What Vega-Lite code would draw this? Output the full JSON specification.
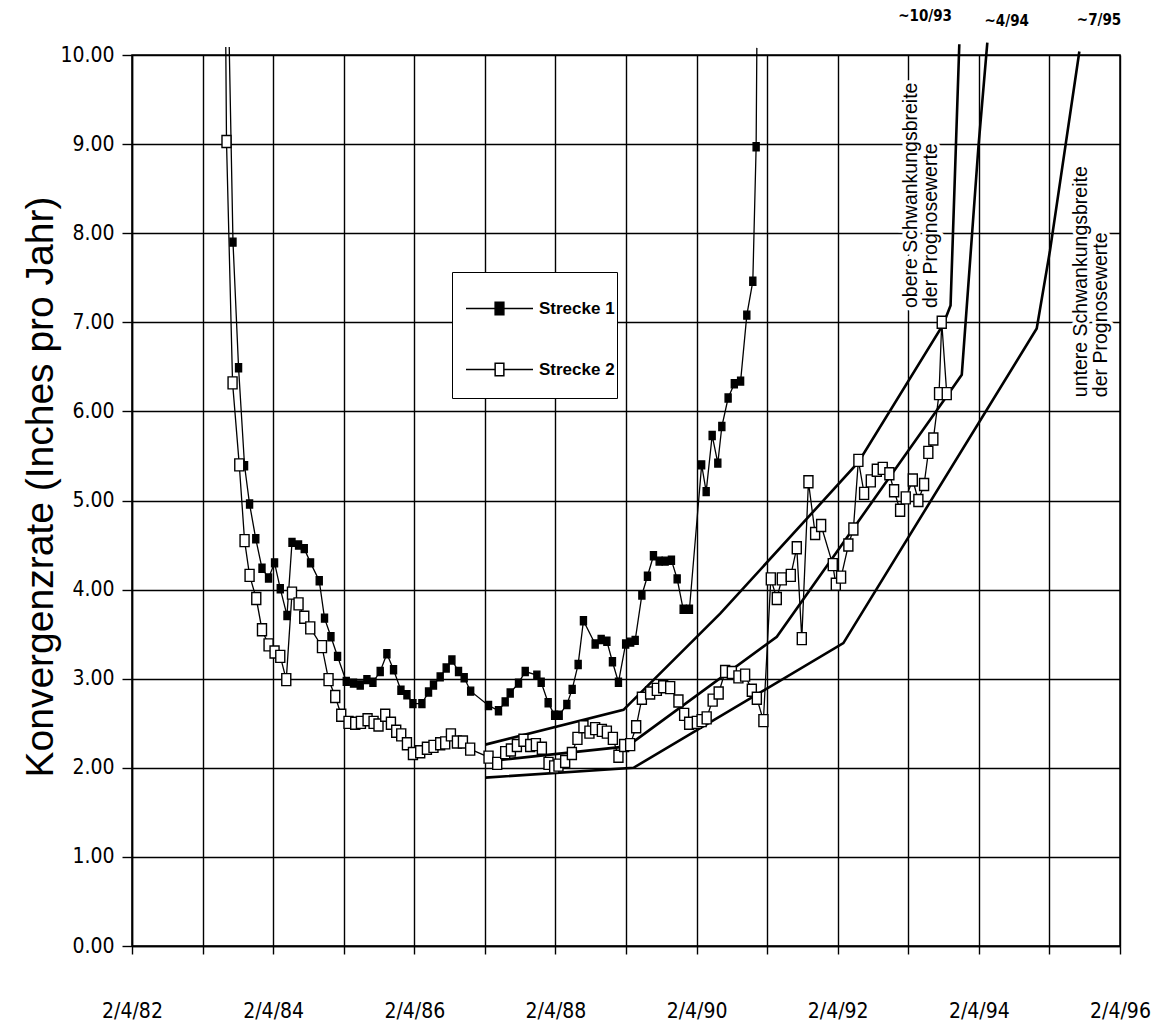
{
  "$schema": "https://vega.github.io/schema/vega-lite/v6.json",
  "width": 988,
  "height": 891,
  "autosize": {"type": "none"},
  "padding": {"left": 132, "top": 55, "right": 35, "bottom": 77},
  "background": "white",
  "config": {
    "view": {"stroke": "black", "strokeWidth": 1.5},
    "axis": {
      "gridColor": "black", "gridOpacity": 1, "gridWidth": 1.4,
      "domainColor": "black", "domainWidth": 1.5,
      "tickColor": "black", "tickWidth": 1.4,
      "labelColor": "black", "titleColor": "black",
      "labelFont": "Liberation Sans Narrow, DejaVu Sans Condensed, Liberation Sans",
      "labelFontSize": 21, "labelFlush": false, "labelOverlap": false
    },
    "legend": {
      "orient": "none",
      "symbolStrokeColor": "black", "symbolStrokeWidth": 1.5, "symbolOpacity": 1,
      "labelFont": "Liberation Sans", "labelFontSize": 17, "labelFontWeight": "bold", "labelColor": "black"
    }
  },
  "datasets": {
    "messungen": [
      {"Jahr": 1983.472, "Wert": 10.09, "Strecke": "Strecke 1"},
      {"Jahr": 1983.525, "Wert": 7.90, "Strecke": "Strecke 1"},
      {"Jahr": 1983.604, "Wert": 6.49, "Strecke": "Strecke 1"},
      {"Jahr": 1983.689, "Wert": 5.39, "Strecke": "Strecke 1"},
      {"Jahr": 1983.760, "Wert": 4.96, "Strecke": "Strecke 1"},
      {"Jahr": 1983.848, "Wert": 4.57, "Strecke": "Strecke 1"},
      {"Jahr": 1983.936, "Wert": 4.24, "Strecke": "Strecke 1"},
      {"Jahr": 1984.029, "Wert": 4.13, "Strecke": "Strecke 1"},
      {"Jahr": 1984.114, "Wert": 4.30, "Strecke": "Strecke 1"},
      {"Jahr": 1984.195, "Wert": 4.01, "Strecke": "Strecke 1"},
      {"Jahr": 1984.290, "Wert": 3.71, "Strecke": "Strecke 1"},
      {"Jahr": 1984.361, "Wert": 4.53, "Strecke": "Strecke 1"},
      {"Jahr": 1984.454, "Wert": 4.50, "Strecke": "Strecke 1"},
      {"Jahr": 1984.535, "Wert": 4.46, "Strecke": "Strecke 1"},
      {"Jahr": 1984.624, "Wert": 4.30, "Strecke": "Strecke 1"},
      {"Jahr": 1984.747, "Wert": 4.10, "Strecke": "Strecke 1"},
      {"Jahr": 1984.822, "Wert": 3.68, "Strecke": "Strecke 1"},
      {"Jahr": 1984.913, "Wert": 3.47, "Strecke": "Strecke 1"},
      {"Jahr": 1985.007, "Wert": 3.25, "Strecke": "Strecke 1"},
      {"Jahr": 1985.130, "Wert": 2.97, "Strecke": "Strecke 1"},
      {"Jahr": 1985.233, "Wert": 2.95, "Strecke": "Strecke 1"},
      {"Jahr": 1985.328, "Wert": 2.93, "Strecke": "Strecke 1"},
      {"Jahr": 1985.423, "Wert": 2.99, "Strecke": "Strecke 1"},
      {"Jahr": 1985.508, "Wert": 2.96, "Strecke": "Strecke 1"},
      {"Jahr": 1985.611, "Wert": 3.08, "Strecke": "Strecke 1"},
      {"Jahr": 1985.706, "Wert": 3.28, "Strecke": "Strecke 1"},
      {"Jahr": 1985.800, "Wert": 3.10, "Strecke": "Strecke 1"},
      {"Jahr": 1985.905, "Wert": 2.87, "Strecke": "Strecke 1"},
      {"Jahr": 1985.990, "Wert": 2.82, "Strecke": "Strecke 1"},
      {"Jahr": 1986.075, "Wert": 2.72, "Strecke": "Strecke 1"},
      {"Jahr": 1986.202, "Wert": 2.72, "Strecke": "Strecke 1"},
      {"Jahr": 1986.296, "Wert": 2.85, "Strecke": "Strecke 1"},
      {"Jahr": 1986.366, "Wert": 2.93, "Strecke": "Strecke 1"},
      {"Jahr": 1986.461, "Wert": 3.02, "Strecke": "Strecke 1"},
      {"Jahr": 1986.546, "Wert": 3.12, "Strecke": "Strecke 1"},
      {"Jahr": 1986.627, "Wert": 3.21, "Strecke": "Strecke 1"},
      {"Jahr": 1986.721, "Wert": 3.08, "Strecke": "Strecke 1"},
      {"Jahr": 1986.801, "Wert": 3.01, "Strecke": "Strecke 1"},
      {"Jahr": 1986.893, "Wert": 2.86, "Strecke": "Strecke 1"},
      {"Jahr": 1987.146, "Wert": 2.70, "Strecke": "Strecke 1"},
      {"Jahr": 1987.287, "Wert": 2.64, "Strecke": "Strecke 1"},
      {"Jahr": 1987.382, "Wert": 2.74, "Strecke": "Strecke 1"},
      {"Jahr": 1987.453, "Wert": 2.84, "Strecke": "Strecke 1"},
      {"Jahr": 1987.571, "Wert": 2.95, "Strecke": "Strecke 1"},
      {"Jahr": 1987.666, "Wert": 3.08, "Strecke": "Strecke 1"},
      {"Jahr": 1987.831, "Wert": 3.04, "Strecke": "Strecke 1"},
      {"Jahr": 1987.892, "Wert": 2.96, "Strecke": "Strecke 1"},
      {"Jahr": 1987.991, "Wert": 2.73, "Strecke": "Strecke 1"},
      {"Jahr": 1988.083, "Wert": 2.59, "Strecke": "Strecke 1"},
      {"Jahr": 1988.147, "Wert": 2.59, "Strecke": "Strecke 1"},
      {"Jahr": 1988.256, "Wert": 2.71, "Strecke": "Strecke 1"},
      {"Jahr": 1988.331, "Wert": 2.88, "Strecke": "Strecke 1"},
      {"Jahr": 1988.416, "Wert": 3.16, "Strecke": "Strecke 1"},
      {"Jahr": 1988.491, "Wert": 3.65, "Strecke": "Strecke 1"},
      {"Jahr": 1988.657, "Wert": 3.39, "Strecke": "Strecke 1"},
      {"Jahr": 1988.742, "Wert": 3.44, "Strecke": "Strecke 1"},
      {"Jahr": 1988.823, "Wert": 3.42, "Strecke": "Strecke 1"},
      {"Jahr": 1988.902, "Wert": 3.19, "Strecke": "Strecke 1"},
      {"Jahr": 1988.987, "Wert": 2.96, "Strecke": "Strecke 1"},
      {"Jahr": 1989.089, "Wert": 3.39, "Strecke": "Strecke 1"},
      {"Jahr": 1989.160, "Wert": 3.41, "Strecke": "Strecke 1"},
      {"Jahr": 1989.224, "Wert": 3.43, "Strecke": "Strecke 1"},
      {"Jahr": 1989.319, "Wert": 3.94, "Strecke": "Strecke 1"},
      {"Jahr": 1989.398, "Wert": 4.15, "Strecke": "Strecke 1"},
      {"Jahr": 1989.483, "Wert": 4.38, "Strecke": "Strecke 1"},
      {"Jahr": 1989.564, "Wert": 4.32, "Strecke": "Strecke 1"},
      {"Jahr": 1989.649, "Wert": 4.32, "Strecke": "Strecke 1"},
      {"Jahr": 1989.738, "Wert": 4.33, "Strecke": "Strecke 1"},
      {"Jahr": 1989.819, "Wert": 4.12, "Strecke": "Strecke 1"},
      {"Jahr": 1989.904, "Wert": 3.78, "Strecke": "Strecke 1"},
      {"Jahr": 1989.993, "Wert": 3.78, "Strecke": "Strecke 1"},
      {"Jahr": 1990.166, "Wert": 5.40, "Strecke": "Strecke 1"},
      {"Jahr": 1990.230, "Wert": 5.10, "Strecke": "Strecke 1"},
      {"Jahr": 1990.315, "Wert": 5.73, "Strecke": "Strecke 1"},
      {"Jahr": 1990.395, "Wert": 5.42, "Strecke": "Strecke 1"},
      {"Jahr": 1990.452, "Wert": 5.83, "Strecke": "Strecke 1"},
      {"Jahr": 1990.541, "Wert": 6.15, "Strecke": "Strecke 1"},
      {"Jahr": 1990.629, "Wert": 6.31, "Strecke": "Strecke 1"},
      {"Jahr": 1990.718, "Wert": 6.34, "Strecke": "Strecke 1"},
      {"Jahr": 1990.806, "Wert": 7.08, "Strecke": "Strecke 1"},
      {"Jahr": 1990.891, "Wert": 7.46, "Strecke": "Strecke 1"},
      {"Jahr": 1990.938, "Wert": 8.97, "Strecke": "Strecke 1"},
      {"Jahr": 1990.948, "Wert": 10.08, "Strecke": "Strecke 1"},
      {"Jahr": 1983.423, "Wert": 10.09, "Strecke": "Strecke 2"},
      {"Jahr": 1983.433, "Wert": 9.03, "Strecke": "Strecke 2"},
      {"Jahr": 1983.519, "Wert": 6.32, "Strecke": "Strecke 2"},
      {"Jahr": 1983.614, "Wert": 5.40, "Strecke": "Strecke 2"},
      {"Jahr": 1983.689, "Wert": 4.55, "Strecke": "Strecke 2"},
      {"Jahr": 1983.760, "Wert": 4.16, "Strecke": "Strecke 2"},
      {"Jahr": 1983.855, "Wert": 3.90, "Strecke": "Strecke 2"},
      {"Jahr": 1983.936, "Wert": 3.55, "Strecke": "Strecke 2"},
      {"Jahr": 1984.029, "Wert": 3.38, "Strecke": "Strecke 2"},
      {"Jahr": 1984.114, "Wert": 3.30, "Strecke": "Strecke 2"},
      {"Jahr": 1984.195, "Wert": 3.25, "Strecke": "Strecke 2"},
      {"Jahr": 1984.280, "Wert": 2.99, "Strecke": "Strecke 2"},
      {"Jahr": 1984.361, "Wert": 3.96, "Strecke": "Strecke 2"},
      {"Jahr": 1984.454, "Wert": 3.84, "Strecke": "Strecke 2"},
      {"Jahr": 1984.535, "Wert": 3.69, "Strecke": "Strecke 2"},
      {"Jahr": 1984.620, "Wert": 3.57, "Strecke": "Strecke 2"},
      {"Jahr": 1984.786, "Wert": 3.36, "Strecke": "Strecke 2"},
      {"Jahr": 1984.879, "Wert": 2.99, "Strecke": "Strecke 2"},
      {"Jahr": 1984.974, "Wert": 2.80, "Strecke": "Strecke 2"},
      {"Jahr": 1985.059, "Wert": 2.59, "Strecke": "Strecke 2"},
      {"Jahr": 1985.162, "Wert": 2.51, "Strecke": "Strecke 2"},
      {"Jahr": 1985.257, "Wert": 2.50, "Strecke": "Strecke 2"},
      {"Jahr": 1985.338, "Wert": 2.51, "Strecke": "Strecke 2"},
      {"Jahr": 1985.432, "Wert": 2.54, "Strecke": "Strecke 2"},
      {"Jahr": 1985.517, "Wert": 2.51, "Strecke": "Strecke 2"},
      {"Jahr": 1985.587, "Wert": 2.48, "Strecke": "Strecke 2"},
      {"Jahr": 1985.682, "Wert": 2.59, "Strecke": "Strecke 2"},
      {"Jahr": 1985.763, "Wert": 2.50, "Strecke": "Strecke 2"},
      {"Jahr": 1985.838, "Wert": 2.41, "Strecke": "Strecke 2"},
      {"Jahr": 1985.909, "Wert": 2.37, "Strecke": "Strecke 2"},
      {"Jahr": 1985.990, "Wert": 2.27, "Strecke": "Strecke 2"},
      {"Jahr": 1986.075, "Wert": 2.16, "Strecke": "Strecke 2"},
      {"Jahr": 1986.178, "Wert": 2.18, "Strecke": "Strecke 2"},
      {"Jahr": 1986.273, "Wert": 2.22, "Strecke": "Strecke 2"},
      {"Jahr": 1986.366, "Wert": 2.24, "Strecke": "Strecke 2"},
      {"Jahr": 1986.461, "Wert": 2.27, "Strecke": "Strecke 2"},
      {"Jahr": 1986.532, "Wert": 2.28, "Strecke": "Strecke 2"},
      {"Jahr": 1986.613, "Wert": 2.37, "Strecke": "Strecke 2"},
      {"Jahr": 1986.698, "Wert": 2.29, "Strecke": "Strecke 2"},
      {"Jahr": 1986.783, "Wert": 2.29, "Strecke": "Strecke 2"},
      {"Jahr": 1986.886, "Wert": 2.21, "Strecke": "Strecke 2"},
      {"Jahr": 1987.146, "Wert": 2.12, "Strecke": "Strecke 2"},
      {"Jahr": 1987.269, "Wert": 2.05, "Strecke": "Strecke 2"},
      {"Jahr": 1987.382, "Wert": 2.17, "Strecke": "Strecke 2"},
      {"Jahr": 1987.463, "Wert": 2.20, "Strecke": "Strecke 2"},
      {"Jahr": 1987.548, "Wert": 2.25, "Strecke": "Strecke 2"},
      {"Jahr": 1987.641, "Wert": 2.31, "Strecke": "Strecke 2"},
      {"Jahr": 1987.736, "Wert": 2.25, "Strecke": "Strecke 2"},
      {"Jahr": 1987.817, "Wert": 2.26, "Strecke": "Strecke 2"},
      {"Jahr": 1987.902, "Wert": 2.22, "Strecke": "Strecke 2"},
      {"Jahr": 1987.996, "Wert": 2.05, "Strecke": "Strecke 2"},
      {"Jahr": 1988.076, "Wert": 2.01, "Strecke": "Strecke 2"},
      {"Jahr": 1988.137, "Wert": 2.03, "Strecke": "Strecke 2"},
      {"Jahr": 1988.232, "Wert": 2.07, "Strecke": "Strecke 2"},
      {"Jahr": 1988.327, "Wert": 2.16, "Strecke": "Strecke 2"},
      {"Jahr": 1988.406, "Wert": 2.33, "Strecke": "Strecke 2"},
      {"Jahr": 1988.491, "Wert": 2.46, "Strecke": "Strecke 2"},
      {"Jahr": 1988.576, "Wert": 2.40, "Strecke": "Strecke 2"},
      {"Jahr": 1988.657, "Wert": 2.44, "Strecke": "Strecke 2"},
      {"Jahr": 1988.752, "Wert": 2.42, "Strecke": "Strecke 2"},
      {"Jahr": 1988.823, "Wert": 2.40, "Strecke": "Strecke 2"},
      {"Jahr": 1988.908, "Wert": 2.33, "Strecke": "Strecke 2"},
      {"Jahr": 1988.987, "Wert": 2.13, "Strecke": "Strecke 2"},
      {"Jahr": 1989.068, "Wert": 2.25, "Strecke": "Strecke 2"},
      {"Jahr": 1989.153, "Wert": 2.26, "Strecke": "Strecke 2"},
      {"Jahr": 1989.238, "Wert": 2.46, "Strecke": "Strecke 2"},
      {"Jahr": 1989.319, "Wert": 2.78, "Strecke": "Strecke 2"},
      {"Jahr": 1989.436, "Wert": 2.84, "Strecke": "Strecke 2"},
      {"Jahr": 1989.531, "Wert": 2.88, "Strecke": "Strecke 2"},
      {"Jahr": 1989.621, "Wert": 2.91, "Strecke": "Strecke 2"},
      {"Jahr": 1989.720, "Wert": 2.90, "Strecke": "Strecke 2"},
      {"Jahr": 1989.837, "Wert": 2.75, "Strecke": "Strecke 2"},
      {"Jahr": 1989.918, "Wert": 2.60, "Strecke": "Strecke 2"},
      {"Jahr": 1989.989, "Wert": 2.50, "Strecke": "Strecke 2"},
      {"Jahr": 1990.098, "Wert": 2.51, "Strecke": "Strecke 2"},
      {"Jahr": 1990.166, "Wert": 2.53, "Strecke": "Strecke 2"},
      {"Jahr": 1990.237, "Wert": 2.56, "Strecke": "Strecke 2"},
      {"Jahr": 1990.322, "Wert": 2.76, "Strecke": "Strecke 2"},
      {"Jahr": 1990.407, "Wert": 2.84, "Strecke": "Strecke 2"},
      {"Jahr": 1990.499, "Wert": 3.08, "Strecke": "Strecke 2"},
      {"Jahr": 1990.594, "Wert": 3.07, "Strecke": "Strecke 2"},
      {"Jahr": 1990.687, "Wert": 3.02, "Strecke": "Strecke 2"},
      {"Jahr": 1990.782, "Wert": 3.04, "Strecke": "Strecke 2"},
      {"Jahr": 1990.877, "Wert": 2.87, "Strecke": "Strecke 2"},
      {"Jahr": 1990.948, "Wert": 2.78, "Strecke": "Strecke 2"},
      {"Jahr": 1991.041, "Wert": 2.53, "Strecke": "Strecke 2"},
      {"Jahr": 1991.146, "Wert": 4.12, "Strecke": "Strecke 2"},
      {"Jahr": 1991.231, "Wert": 3.90, "Strecke": "Strecke 2"},
      {"Jahr": 1991.302, "Wert": 4.12, "Strecke": "Strecke 2"},
      {"Jahr": 1991.429, "Wert": 4.16, "Strecke": "Strecke 2"},
      {"Jahr": 1991.514, "Wert": 4.47, "Strecke": "Strecke 2"},
      {"Jahr": 1991.585, "Wert": 3.45, "Strecke": "Strecke 2"},
      {"Jahr": 1991.679, "Wert": 5.21, "Strecke": "Strecke 2"},
      {"Jahr": 1991.774, "Wert": 4.63, "Strecke": "Strecke 2"},
      {"Jahr": 1991.859, "Wert": 4.72, "Strecke": "Strecke 2"},
      {"Jahr": 1992.024, "Wert": 4.28, "Strecke": "Strecke 2"},
      {"Jahr": 1992.067, "Wert": 4.06, "Strecke": "Strecke 2"},
      {"Jahr": 1992.142, "Wert": 4.14, "Strecke": "Strecke 2"},
      {"Jahr": 1992.245, "Wert": 4.50, "Strecke": "Strecke 2"},
      {"Jahr": 1992.316, "Wert": 4.68, "Strecke": "Strecke 2"},
      {"Jahr": 1992.387, "Wert": 5.45, "Strecke": "Strecke 2"},
      {"Jahr": 1992.468, "Wert": 5.08, "Strecke": "Strecke 2"},
      {"Jahr": 1992.563, "Wert": 5.22, "Strecke": "Strecke 2"},
      {"Jahr": 1992.648, "Wert": 5.34, "Strecke": "Strecke 2"},
      {"Jahr": 1992.732, "Wert": 5.36, "Strecke": "Strecke 2"},
      {"Jahr": 1992.826, "Wert": 5.30, "Strecke": "Strecke 2"},
      {"Jahr": 1992.893, "Wert": 5.11, "Strecke": "Strecke 2"},
      {"Jahr": 1992.978, "Wert": 4.89, "Strecke": "Strecke 2"},
      {"Jahr": 1993.058, "Wert": 5.03, "Strecke": "Strecke 2"},
      {"Jahr": 1993.158, "Wert": 5.23, "Strecke": "Strecke 2"},
      {"Jahr": 1993.237, "Wert": 5.00, "Strecke": "Strecke 2"},
      {"Jahr": 1993.318, "Wert": 5.18, "Strecke": "Strecke 2"},
      {"Jahr": 1993.378, "Wert": 5.54, "Strecke": "Strecke 2"},
      {"Jahr": 1993.449, "Wert": 5.69, "Strecke": "Strecke 2"},
      {"Jahr": 1993.530, "Wert": 6.20, "Strecke": "Strecke 2"},
      {"Jahr": 1993.568, "Wert": 7.00, "Strecke": "Strecke 2"},
      {"Jahr": 1993.639, "Wert": 6.20, "Strecke": "Strecke 2"}
    ],
    "prognose": [
      {"Jahr": 1987.100, "Wert": 2.26, "Linie": "obere"},
      {"Jahr": 1989.058, "Wert": 2.65, "Linie": "obere"},
      {"Jahr": 1990.428, "Wert": 3.73, "Linie": "obere"},
      {"Jahr": 1992.387, "Wert": 5.43, "Linie": "obere"},
      {"Jahr": 1993.591, "Wert": 6.98, "Linie": "obere"},
      {"Jahr": 1993.693, "Wert": 7.19, "Linie": "obere"},
      {"Jahr": 1993.817, "Wert": 10.12, "Linie": "obere"},
      {"Jahr": 1987.100, "Wert": 2.07, "Linie": "mittlere"},
      {"Jahr": 1989.110, "Wert": 2.24, "Linie": "mittlere"},
      {"Jahr": 1991.231, "Wert": 3.47, "Linie": "mittlere"},
      {"Jahr": 1993.639, "Wert": 6.17, "Linie": "mittlere"},
      {"Jahr": 1993.852, "Wert": 6.41, "Linie": "mittlere"},
      {"Jahr": 1994.087, "Wert": 8.96, "Linie": "mittlere"},
      {"Jahr": 1994.214, "Wert": 10.14, "Linie": "mittlere"},
      {"Jahr": 1987.100, "Wert": 1.89, "Linie": "untere"},
      {"Jahr": 1989.200, "Wert": 2.00, "Linie": "untere"},
      {"Jahr": 1992.174, "Wert": 3.40, "Linie": "untere"},
      {"Jahr": 1994.914, "Wert": 6.93, "Linie": "untere"},
      {"Jahr": 1995.103, "Wert": 7.81, "Linie": "untere"},
      {"Jahr": 1995.518, "Wert": 10.04, "Linie": "untere"}
    ],
    "marken": [
      {"Jahr": 1993.332, "Wert": 10.44, "Text": "~10/93"},
      {"Jahr": 1994.489, "Wert": 10.38, "Text": "~4/94"},
      {"Jahr": 1995.797, "Wert": 10.39, "Text": "~7/95"}
    ],
    "hinweise": [
      {"Jahr": 1993.006, "Wert": 7.16, "Text": "obere Schwankungsbreite\nder Prognosewerte"},
      {"Jahr": 1995.414, "Wert": 6.16, "Text": "untere Schwankungsbreite\nder Prognosewerte"}
    ]
  },
  "encoding": {
    "x": {
      "field": "Jahr", "type": "quantitative",
      "scale": {"domain": [1982.094, 1996.094], "nice": false, "zero": false},
      "axis": {
        "title": null,
        "values": [1982.094, 1983.094, 1984.094, 1985.094, 1986.094, 1987.094, 1988.094, 1989.094, 1990.094, 1991.094, 1992.094, 1993.094, 1994.094, 1995.094, 1996.094],
        "labelExpr": "round(datum.value - 0.094) % 2 == 0 ? '2/4/' + (round(datum.value - 0.094) % 100) : ''",
        "grid": true, "tickSize": 8, "labelPadding": 46
      }
    },
    "y": {
      "field": "Wert", "type": "quantitative",
      "scale": {"domain": [0, 10], "nice": false, "zero": true},
      "axis": {
        "title": "Konvergenzrate (Inches pro Jahr)",
        "values": [0, 1, 2, 3, 4, 5, 6, 7, 8, 9, 10],
        "format": ".2f",
        "grid": true, "tickSize": 10, "labelPadding": 8,
        "titleFont": "Liberation Sans", "titleFontSize": 39, "titleFontWeight": "normal",
        "titleAngle": 270, "titleX": -92, "titleY": 431.5,
        "titleAlign": "center", "titleBaseline": "middle"
      }
    }
  },
  "layer": [
    {
      "data": {"name": "hinweise"},
      "mark": {"type": "text", "angle": 270, "align": "left", "baseline": "top", "lineBreak": "\n", "lineHeight": 20, "font": "Liberation Sans", "fontSize": 19.5, "fill": "white", "stroke": "white", "strokeWidth": 7, "clip": false},
      "encoding": {"text": {"field": "Text"}}
    },
    {
      "data": {"name": "prognose"},
      "mark": {"type": "line", "color": "black", "strokeWidth": 2.6, "clip": false},
      "encoding": {"detail": {"field": "Linie"}}
    },
    {
      "data": {"name": "messungen"},
      "mark": {"type": "line", "color": "black", "strokeWidth": 1.3, "clip": false},
      "encoding": {"detail": {"field": "Strecke"}}
    },
    {
      "data": {"name": "messungen"},
      "transform": [{"filter": "datum.Wert <= 10 && datum.Strecke == 'Strecke 1'"}],
      "mark": {"type": "point", "shape": "M-0.75,-1H0.75V1H-0.75Z", "size": 64, "filled": true, "stroke": "black", "strokeWidth": 1.4, "opacity": 1, "clip": false},
      "encoding": {
        "fill": {
          "field": "Strecke", "type": "nominal",
          "scale": {"domain": ["Strecke 1", "Strecke 2"], "range": ["black", "white"]},
          "legend": {
            "title": null, "orient": "none", "legendX": 320, "legendY": 217,
            "symbolType": "M0,-0.69M0,0.69M-1,0H-0.13M0.13,0H1M-0.13,-0.19H0.13V0.19H-0.13Z",
            "symbolSize": 4489, "symbolOffset": 11, "labelOffset": 5, "padding": 2, "rowPadding": 0,
            "strokeColor": "black", "fillColor": "white"
          }
        }
      }
    },
    {
      "data": {"name": "messungen"},
      "transform": [{"filter": "datum.Wert <= 10 && datum.Strecke == 'Strecke 2'"}],
      "mark": {"type": "point", "shape": "M-0.75,-1H0.75V1H-0.75Z", "size": 144, "filled": true, "stroke": "black", "strokeWidth": 1.4, "opacity": 1, "clip": false},
      "encoding": {
        "fill": {
          "field": "Strecke", "type": "nominal",
          "scale": {"domain": ["Strecke 1", "Strecke 2"], "range": ["black", "white"]},
          "legend": {
            "title": null, "orient": "none", "legendX": 320, "legendY": 217,
            "symbolType": "M0,-0.69M0,0.69M-1,0H-0.13M0.13,0H1M-0.13,-0.19H0.13V0.19H-0.13Z",
            "symbolSize": 4489, "symbolOffset": 11, "labelOffset": 5, "padding": 2, "rowPadding": 0,
            "strokeColor": "black", "fillColor": "white"
          }
        }
      }
    },
    {
      "data": {"name": "marken"},
      "mark": {"type": "text", "align": "center", "baseline": "middle", "font": "Liberation Sans Narrow, DejaVu Sans Condensed, Liberation Sans", "fontSize": 15, "fontWeight": "bold", "color": "black", "clip": false},
      "encoding": {"text": {"field": "Text"}}
    },
    {
      "data": {"name": "hinweise"},
      "mark": {"type": "text", "angle": 270, "align": "left", "baseline": "top", "lineBreak": "\n", "lineHeight": 20, "font": "Liberation Sans", "fontSize": 19.5, "color": "black", "clip": false},
      "encoding": {"text": {"field": "Text"}}
    }
  ]
}
